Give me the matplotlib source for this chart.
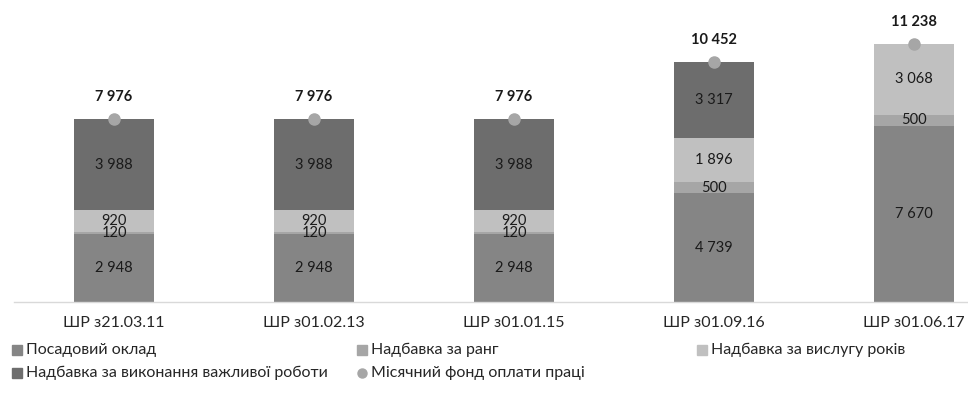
import matplotlib
matplotlib.use("Agg")
import matplotlib.pyplot as plt
from matplotlib.lines import Line2D

plt.rcParams['font.family'] = ['Lato', 'DejaVu Sans']

categories = ["ШР з21.03.11", "ШР з01.02.13", "ШР з01.01.15", "ШР з01.09.16", "ШР з01.06.17"]
posadovyi = [2948, 2948, 2948, 4739, 7670]
rank_bonus = [120, 120, 120, 500, 500]
seniority_bonus = [920, 920, 920, 1896, 3068]
important_work = [3988, 3988, 3988, 3317, 0]
monthly_fund = [7976, 7976, 7976, 10452, 11238]

series_names = ["Посадовий оклад", "Надбавка за ранг", "Надбавка за вислугу років",
                "Надбавка за виконання важливої роботи"]
total_name = "Місячний фонд оплати праці"
colors = ["#858585", "#a6a6a6", "#c0c0c0", "#6d6d6d"]
dot_color = "#a6a6a6"


def fmt(v):
    return f"{v:,}".replace(",", " ")


fig = plt.figure(figsize=(9.68, 3.99), dpi=100)
ax = fig.add_axes([14 / 968, 97 / 399, 1 - 14 / 968, 302 / 399])

x = list(range(len(categories)))
bottoms = [0] * len(categories)
for vals, col in zip([posadovyi, rank_bonus, seniority_bonus, important_work], colors):
    ax.bar(x, vals, bottom=bottoms, width=0.4, color=col, zorder=2)
    for xi, v, b in zip(x, vals, bottoms):
        if v > 0:
            ax.text(xi, b + v / 2, fmt(v), ha='center', va='center',
                    fontsize=10.5, color='#1a1a1a', zorder=4)
    bottoms = [b + v for b, v in zip(bottoms, vals)]

ax.plot(x, monthly_fund, linestyle='none', marker='o', markersize=8,
        color=dot_color, zorder=3)
for xi, t in zip(x, monthly_fund):
    ax.annotate(fmt(t), (xi, t), xytext=(0, 16), textcoords='offset points',
                ha='center', va='center', fontsize=10.5, fontweight='bold', color='#1a1a1a')

ax.set_xlim(-0.5, (968 - 114) / 200)
ax.set_ylim(0, 13160)
ax.set_xticks(x)
ax.set_xticklabels(categories, fontsize=11.5, color='#262626')
ax.tick_params(axis='x', length=0, pad=10)
ax.set_yticks([])
for s in ['top', 'right', 'left']:
    ax.spines[s].set_visible(False)
ax.spines['bottom'].set_color('#d9d9d9')
ax.spines['bottom'].set_linewidth(1.0)

# legend laid out in two rows, three columns
legend_items = [
    (series_names[0], colors[0], 's', 17, 350),
    (series_names[1], colors[1], 's', 362, 350),
    (series_names[2], colors[2], 's', 702, 350),
    (series_names[3], colors[3], 's', 17, 373),
    (total_name, dot_color, 'o', 362, 373),
]
W, H = 968, 399
for label, col, mk, px, py in legend_items:
    fig.add_artist(Line2D([px / W], [1 - py / H], marker=mk, markersize=6.5,
                          color=col, linestyle='none', transform=fig.transFigure))
    fig.text((px + 9) / W, 1 - py / H, label, fontsize=11.5, color='#262626',
             ha='left', va='center')

fig.savefig("out.png", dpi=100, facecolor='white')
